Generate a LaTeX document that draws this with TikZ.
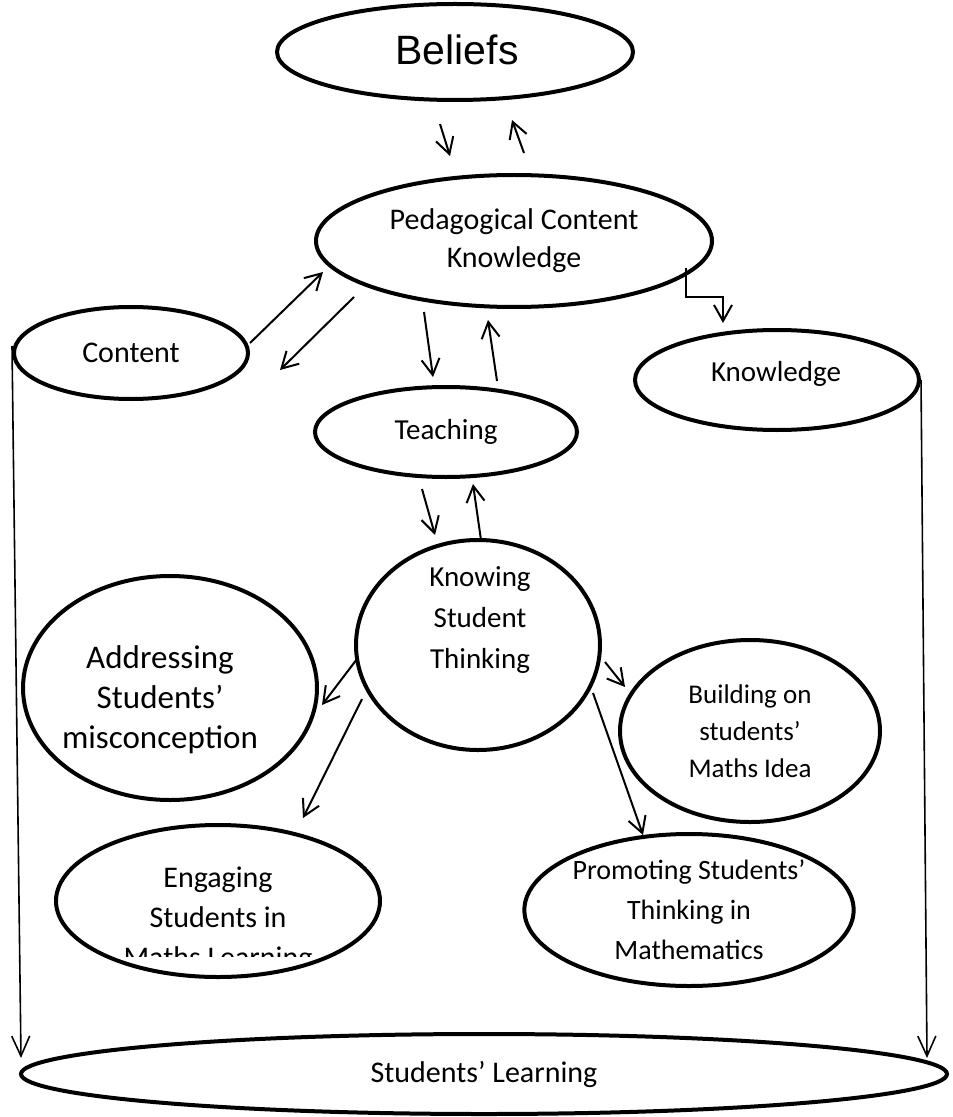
\documentclass[tikz,border=0pt]{standalone}
\usepackage{fontspec}
\setmainfont{Carlito}
\newfontfamily\arialfont{Liberation Sans}
\usetikzlibrary{shapes.geometric,arrows.meta,calc}

\tikzset{
  ell/.style={draw, ellipse, line width=2pt, inner sep=0pt, align=center},
  lbl/.style={inner sep=0pt, align=center},
  arr/.style={-{Straight Barb[length=8pt,width=9pt]}, line width=1pt},
  side/.style={-{Straight Barb[length=10pt,width=9pt]}, line width=0.8pt}
}

\begin{document}
\begin{tikzpicture}[x=0.5pt,y=-0.5pt]
  \useasboundingbox (0,0) rectangle (952,1117);

  % top of the diagram
  \node[ell, minimum width=178pt, minimum height=48pt] (beliefs) at (455,52) {};
  \node[lbl, font=\arialfont\fontsize{20.5}{22}\selectfont] (beliefs-t) at (457,50) {Beliefs};
  \node[ell, minimum width=198pt, minimum height=66pt,
        font=\fontsize{15}{19}\selectfont] (pck) at (514,241) {Pedagogical Content\\Knowledge};
  \node[ell, minimum width=117pt, minimum height=46pt,
        font=\fontsize{15}{17}\selectfont] (content) at (131,353) {Content};
  \node[ell, minimum width=142pt, minimum height=50pt] (knowledge) at (777,380) {};
  \node[lbl, font=\fontsize{14.5}{17}\selectfont] (knowledge-t) at (776,374) {Knowledge};
  \node[ell, minimum width=131pt, minimum height=45pt,
        font=\fontsize{14.5}{17}\selectfont] (teaching) at (446,432) {Teaching};

  % middle
  \node[ell, minimum width=122pt, minimum height=105pt] (kst) at (478,645) {};
  \node[lbl, font=\fontsize{14.5}{20.5}\selectfont] (kst-t) at (480,620) {Knowing\\Student\\Thinking};
  \node[ell, minimum width=147pt, minimum height=112pt] (address) at (170,688) {};
  \node[lbl, font=\fontsize{16.5}{20}\selectfont] (address-t) at (160,700) {Addressing\\Students’\\misconception};
  \node[ell, minimum width=130pt, minimum height=91pt,
        font=\fontsize{13.5}{18.5}\selectfont] (build) at (750,731) {Building on\\students’\\Maths Idea};

  % lower ellipses
  \node[ell, minimum width=162pt, minimum height=76pt] (engage) at (218,901) {};
  \begin{scope}
    \clip (60,820) rectangle (380,956);
    \node[lbl, font=\fontsize{15}{20}\selectfont] (engage-t) at (218,920) {Engaging\\Students in\\Maths Learning};
  \end{scope}
  \node[ell, minimum width=149pt, minimum height=76pt,
        font=\fontsize{14}{20}\selectfont] (promote) at (689,910) {Promoting Students’\\Thinking in\\Mathematics};
  \node[ell, minimum width=463pt, minimum height=40pt,
        font=\fontsize{15}{18}\selectfont] (learning) at (484,1074) {Students’ Learning};

  % arrows
  \draw[arr] ($(beliefs.south)+(-15,22)$) -- ($(pck.north)+(-64,-17)$);
  \draw[arr] ($(pck.north)+(10,-20)$) -- ($(beliefs.south)+(57,18)$);
  \draw[arr] ($(content.east)+(0,-10)$) -- ($(pck.west)+(9,31)$);
  \draw[arr] ($(pck.west)+(40,56)$) -- ($(content.east)+(30,17)$);
  \draw[arr] ($(pck.south)+(-90,3)$) -- ($(teaching.north)+(-13,-8)$);
  \draw[arr] ($(teaching.north)+(51,-4)$) -- ($(pck.south)+(-26,11)$);
  \draw[arr] ($(teaching.south)+(-24,10)$) -- ($(kst.north)+(-43,-3)$);
  \draw[arr] ($(kst.north)+(3,2)$) -- ($(teaching.south)+(27,5)$);
  \draw[arr] ($(pck.east)+(-28,27)$) -- ++(0,29) -- ++(37,0) -- ++(0,26);
  \draw[arr] ($(kst.center)+(-121,14)$) -- ($(address.east)+(3,17)$);
  \draw[arr] ($(kst.center)+(-116,54)$) -- ($(engage.north)+(85,-5)$);
  \draw[arr] ($(kst.center)+(127,17)$) -- ($(build.west)+(7,-44)$);
  \draw[arr] ($(kst.center)+(115,48)$) -- ($(promote.north)+(-46,3)$);

  % long side arrows
  \draw[side] ($(content.west)+(0,-7)$) -- ($(learning.west)+(2,-16)$);
  \draw[side] (knowledge.east) -- ($(learning.east)+(-22,-16)$);
\end{tikzpicture}
\end{document}
